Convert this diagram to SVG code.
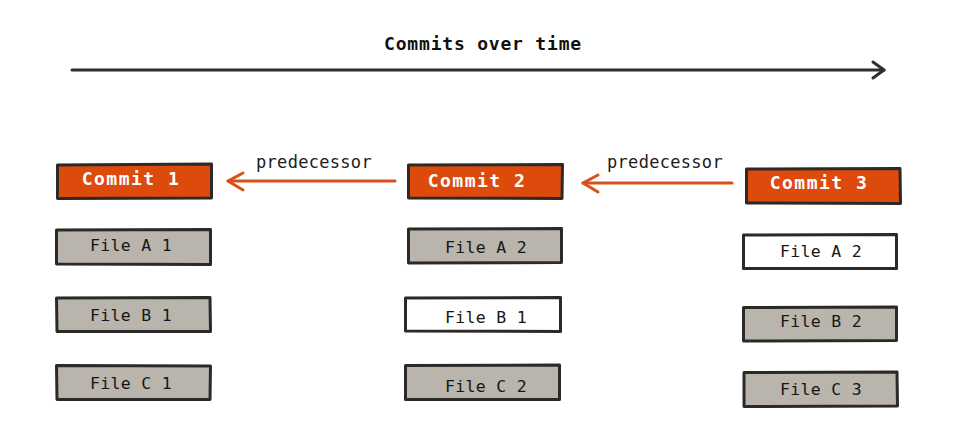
<svg xmlns="http://www.w3.org/2000/svg" width="970" height="447" viewBox="0 0 970 447">
<style>
.box{stroke:#2c2a28;stroke-width:3;stroke-linejoin:round}
.commit{fill:#dc4a0c}
.file{fill:#b9b4ac}
.new{fill:#ffffff}
.ct{font-family:"DejaVu Sans Mono",monospace;font-weight:bold;font-size:18px;fill:#ffffff;letter-spacing:1.5px;text-anchor:middle}
.ft{font-family:"DejaVu Sans Mono",monospace;font-size:16.5px;fill:#161616;letter-spacing:0.3px;text-anchor:middle}
.lbl{font-family:"DejaVu Sans Mono",monospace;font-size:17px;fill:#1c1c1c;letter-spacing:0.3px;text-anchor:middle}
.title{font-family:"DejaVu Sans Mono",monospace;font-weight:bold;font-size:18px;fill:#111;letter-spacing:0.8px;text-anchor:middle}
.tl{stroke:#2f2f2f;stroke-width:3;fill:none;stroke-linecap:round;stroke-linejoin:round}
.pred{stroke:#d9501a;stroke-width:3;fill:none;stroke-linecap:round;stroke-linejoin:round}
</style>
<g id="title">
<text class="title" x="483" y="50">Commits over time</text>
</g>
<g id="connectors">
<path class="tl" d="M72 70 Q480 68.5 884 70"/>
<path class="tl" d="M873 62 L884 70 L873 78"/>
<path class="pred" d="M395 181 L228 181"/>
<path class="pred" d="M243 173 L228 181 L243 190"/>
<path class="pred" d="M732 183 L583 183"/>
<path class="pred" d="M598 175 L583 183 L598 192"/>
</g>
<g id="label1"><text class="lbl" x="314" y="168">predecessor</text></g>
<g id="label2"><text class="lbl" x="665" y="168">predecessor</text></g>
<g id="commit1">
<path class="box commit" d="M57.5 165 L211.5 164 L211.5 198 L57.5 198.5 Z"/>
<text class="ct" x="131" y="184.5">Commit 1</text>
</g>
<g id="commit2">
<path class="box commit" d="M408.5 165 L562.5 164.5 L562 198.5 L408.5 198 Z"/>
<text class="ct" x="477" y="187">Commit 2</text>
</g>
<g id="commit3">
<path class="box commit" d="M746.5 169 L900 168.5 L900.5 203.5 L746.5 203 Z"/>
<text class="ct" x="819" y="189">Commit 3</text>
</g>
<g id="fileA1">
<path class="box file" d="M56.5 230 L210.5 229.5 L210.5 264.5 L56.5 264 Z"/>
<text class="ft" x="131" y="251">File A 1</text>
</g>
<g id="fileB1">
<path class="box file" d="M56.5 298 L210 297.5 L210.5 331.5 L57 331.5 Z"/>
<text class="ft" x="131" y="321">File B 1</text>
</g>
<g id="fileC1">
<path class="box file" d="M56.5 365.5 L210.5 366 L210 399.5 L57 399.5 Z"/>
<text class="ft" x="131" y="389">File C 1</text>
</g>
<g id="fileA2">
<path class="box file" d="M408.5 229 L561.5 228.5 L561.5 262.5 L408.5 263 Z"/>
<text class="ft" x="486" y="253">File A 2</text>
</g>
<g id="fileB1b">
<path class="box new" d="M405.5 298 L560.5 297.5 L560.5 331.5 L405.5 331 Z"/>
<text class="ft" x="486" y="323">File B 1</text>
</g>
<g id="fileC2">
<path class="box file" d="M405.5 365.5 L559.5 365 L559.5 399.5 L405.5 399.5 Z"/>
<text class="ft" x="486" y="392">File C 2</text>
</g>
<g id="fileA2b">
<path class="box new" d="M743.5 235 L896.5 234.5 L896.5 268.5 L743.5 268.5 Z"/>
<text class="ft" x="821" y="257">File A 2</text>
</g>
<g id="fileB2">
<path class="box file" d="M743.5 307.5 L896.5 307 L896.5 340.5 L743.5 341 Z"/>
<text class="ft" x="821" y="327">File B 2</text>
</g>
<g id="fileC3">
<path class="box file" d="M744 372.5 L897 372 L897.5 406 L744 406.5 Z"/>
<text class="ft" x="821" y="395">File C 3</text>
</g>
</svg>
